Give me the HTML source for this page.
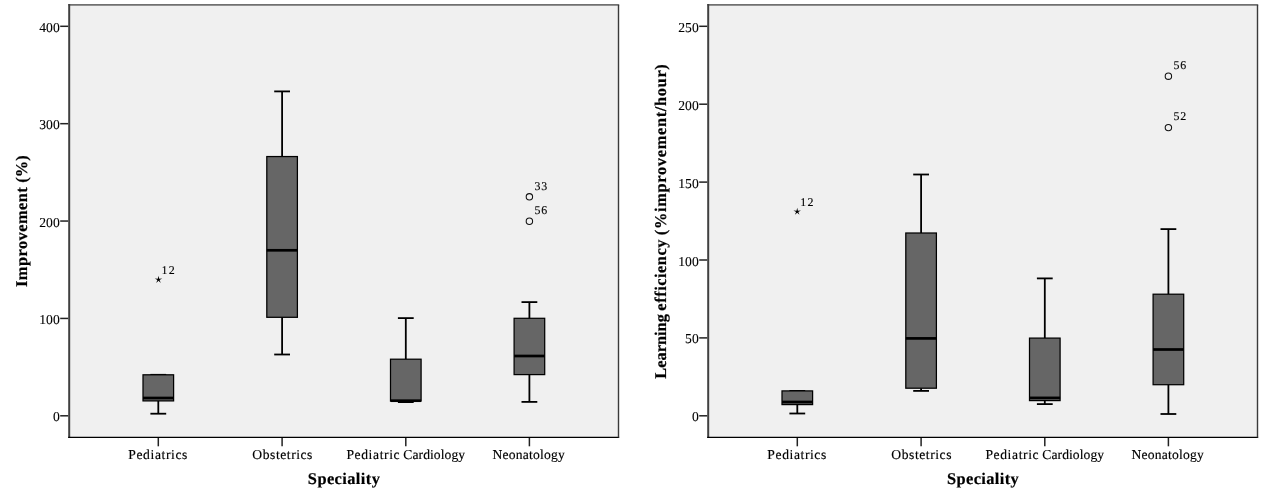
<!DOCTYPE html>
<html lang="en"><head><meta charset="utf-8"><title>Box plots</title>
<style>
html,body{margin:0;padding:0;background:#fff;}
body{width:1276px;height:497px;overflow:hidden;}
svg{display:block;}
text{font-family:"Liberation Serif",serif;fill:#000;text-rendering:geometricPrecision;}
.w{stroke:#000;stroke-width:1.8;}
.b{fill:#666;stroke:#000;stroke-width:1.25;}
.m{stroke:#000;stroke-width:2.7;}
.o{fill:none;stroke:#111;stroke-width:1.05;}
.ft{stroke:#707070;stroke-width:1.8;}
.fl{stroke:#404040;stroke-width:2;}
.fb{stroke:#000;stroke-width:1.2;}
.fr{stroke:#3a3a3a;stroke-width:1.4;}
.t{stroke:#222;stroke-width:1.5;}
.yl{font-size:13.6px;text-anchor:end;letter-spacing:0px;stroke:#000;stroke-width:0.1px;}
.xl{font-size:13.6px;text-anchor:middle;stroke:#000;stroke-width:0.15px;}
.pl{font-size:11.9px;stroke:#000;stroke-width:0.12px;}
.ti{font-size:16.4px;font-weight:bold;text-anchor:middle;stroke:#000;stroke-width:0.2px;}
</style></head>
<body>
<svg width="1276" height="497" viewBox="0 0 1276 497">
<rect width="1276" height="497" fill="#fff"/>
<g id="left">
<rect x="69.20" y="4.95" width="549.30" height="432.45" fill="#f0f0f0"/>
<line x1="150.40" y1="374.8" x2="166.20" y2="374.8" class="w"/>
<line x1="158.30" y1="400.9" x2="158.30" y2="413.7" class="w"/>
<line x1="150.40" y1="413.7" x2="166.20" y2="413.7" class="w"/>
<rect x="143.00" y="374.8" width="30.6" height="26.10" class="b"/>
<line x1="143.00" y1="398.0" x2="173.60" y2="398.0" class="m"/>
<line x1="282.10" y1="91.4" x2="282.10" y2="156.55" class="w"/>
<line x1="274.20" y1="91.4" x2="290.00" y2="91.4" class="w"/>
<line x1="282.10" y1="317.3" x2="282.10" y2="354.5" class="w"/>
<line x1="274.20" y1="354.5" x2="290.00" y2="354.5" class="w"/>
<rect x="266.80" y="156.55" width="30.6" height="160.75" class="b"/>
<line x1="266.80" y1="250.3" x2="297.40" y2="250.3" class="m"/>
<line x1="405.80" y1="318.1" x2="405.80" y2="359.2" class="w"/>
<line x1="397.90" y1="318.1" x2="413.70" y2="318.1" class="w"/>
<line x1="405.80" y1="401.0" x2="405.80" y2="402.1" class="w"/>
<line x1="397.90" y1="402.1" x2="413.70" y2="402.1" class="w"/>
<rect x="390.50" y="359.2" width="30.6" height="41.80" class="b"/>
<line x1="390.50" y1="400.7" x2="421.10" y2="400.7" class="m"/>
<line x1="529.40" y1="302.1" x2="529.40" y2="318.3" class="w"/>
<line x1="521.50" y1="302.1" x2="537.30" y2="302.1" class="w"/>
<line x1="529.40" y1="374.6" x2="529.40" y2="401.9" class="w"/>
<line x1="521.50" y1="401.9" x2="537.30" y2="401.9" class="w"/>
<rect x="514.10" y="318.3" width="30.6" height="56.30" class="b"/>
<line x1="514.10" y1="356.0" x2="544.70" y2="356.0" class="m"/>
<polygon points="158.50,275.75 159.18,278.77 162.26,278.48 159.59,280.06 160.82,282.90 158.50,280.85 156.18,282.90 157.41,280.06 154.74,278.48 157.82,278.77" fill="#000"/>
<text x="161.40" y="273.9" class="pl" style="letter-spacing:1.30px">12</text>
<circle cx="529.4" cy="196.8" r="3.2" class="o"/>
<text x="534.60" y="190.0" class="pl" style="letter-spacing:0.80px">33</text>
<circle cx="529.4" cy="221.2" r="3.2" class="o"/>
<text x="534.60" y="214.2" class="pl" style="letter-spacing:0.80px">56</text>
<line x1="68.40" y1="4.95" x2="619.20" y2="4.95" class="ft"/>
<line x1="69.20" y1="3.95" x2="69.20" y2="438.04999999999995" class="fl"/>
<line x1="68.20" y1="437.4" x2="619.20" y2="437.4" class="fb"/>
<line x1="618.5" y1="4.95" x2="618.5" y2="437.4" class="fr"/>
<line x1="60.20" y1="415.80" x2="68.20" y2="415.80" class="t"/>
<text x="59.70" y="421.35" class="yl">0</text>
<line x1="60.20" y1="318.43" x2="68.20" y2="318.43" class="t"/>
<text x="59.70" y="323.98" class="yl">100</text>
<line x1="60.20" y1="221.05" x2="68.20" y2="221.05" class="t"/>
<text x="59.70" y="226.60" class="yl">200</text>
<line x1="60.20" y1="123.68" x2="68.20" y2="123.68" class="t"/>
<text x="59.70" y="129.23" class="yl">300</text>
<line x1="60.20" y1="26.30" x2="68.20" y2="26.30" class="t"/>
<text x="59.70" y="31.85" class="yl">400</text>
<line x1="158.30" y1="438.00" x2="158.30" y2="446.30" class="t"/>
<text y="458.9" class="xl"><tspan x="158.13" style="letter-spacing:0.60px">Pediatrics</tspan></text>
<line x1="282.10" y1="438.00" x2="282.10" y2="446.30" class="t"/>
<text y="458.9" class="xl"><tspan x="282.67" style="letter-spacing:0.55px">Obstetrics</tspan></text>
<line x1="405.80" y1="438.00" x2="405.80" y2="446.30" class="t"/>
<text y="458.9" class="xl"><tspan x="375.00" style="letter-spacing:0.61px">Pediatric</tspan> <tspan x="434.25" style="letter-spacing:0.06px">Cardiology</tspan></text>
<line x1="529.40" y1="438.00" x2="529.40" y2="446.30" class="t"/>
<text y="458.9" class="xl"><tspan x="528.82" style="letter-spacing:0.22px">Neonatology</tspan></text>
<text x="344.07" y="483.9" class="ti" style="letter-spacing:0.41px">Speciality</text>
<text transform="translate(26.8,0) rotate(-90)" class="ti"><tspan x="-234.87" style="letter-spacing:0.45px">Improvement</tspan> <tspan x="-169.00" style="letter-spacing:-0.01px">(%)</tspan></text>
</g>
<g id="right">
<rect x="708.20" y="4.95" width="549.30" height="432.45" fill="#f0f0f0"/>
<line x1="789.40" y1="390.9" x2="805.20" y2="390.9" class="w"/>
<line x1="797.30" y1="404.6" x2="797.30" y2="413.5" class="w"/>
<line x1="789.40" y1="413.5" x2="805.20" y2="413.5" class="w"/>
<rect x="782.00" y="390.9" width="30.6" height="13.70" class="b"/>
<line x1="782.00" y1="402.0" x2="812.60" y2="402.0" class="m"/>
<line x1="921.10" y1="174.5" x2="921.10" y2="233.0" class="w"/>
<line x1="913.20" y1="174.5" x2="929.00" y2="174.5" class="w"/>
<line x1="921.10" y1="388.2" x2="921.10" y2="390.9" class="w"/>
<line x1="913.20" y1="390.9" x2="929.00" y2="390.9" class="w"/>
<rect x="905.80" y="233.0" width="30.6" height="155.20" class="b"/>
<line x1="905.80" y1="338.4" x2="936.40" y2="338.4" class="m"/>
<line x1="1044.80" y1="278.4" x2="1044.80" y2="338.1" class="w"/>
<line x1="1036.90" y1="278.4" x2="1052.70" y2="278.4" class="w"/>
<line x1="1044.80" y1="400.6" x2="1044.80" y2="404.1" class="w"/>
<line x1="1036.90" y1="404.1" x2="1052.70" y2="404.1" class="w"/>
<rect x="1029.50" y="338.1" width="30.6" height="62.50" class="b"/>
<line x1="1029.50" y1="397.9" x2="1060.10" y2="397.9" class="m"/>
<line x1="1168.40" y1="229.1" x2="1168.40" y2="294.2" class="w"/>
<line x1="1160.50" y1="229.1" x2="1176.30" y2="229.1" class="w"/>
<line x1="1168.40" y1="384.7" x2="1168.40" y2="414.0" class="w"/>
<line x1="1160.50" y1="414.0" x2="1176.30" y2="414.0" class="w"/>
<rect x="1153.10" y="294.2" width="30.6" height="90.50" class="b"/>
<line x1="1153.10" y1="349.5" x2="1183.70" y2="349.5" class="m"/>
<polygon points="797.20,207.65 797.88,210.67 800.96,210.38 798.29,211.96 799.52,214.80 797.20,212.75 794.88,214.80 796.11,211.96 793.44,210.38 796.52,210.67" fill="#000"/>
<text x="800.20" y="205.9" class="pl" style="letter-spacing:1.30px">12</text>
<circle cx="1168.4" cy="76.15" r="3.2" class="o"/>
<text x="1173.50" y="68.8" class="pl" style="letter-spacing:0.80px">56</text>
<circle cx="1168.4" cy="127.6" r="3.2" class="o"/>
<text x="1173.50" y="119.9" class="pl" style="letter-spacing:0.80px">52</text>
<line x1="707.40" y1="4.95" x2="1258.20" y2="4.95" class="ft"/>
<line x1="708.20" y1="3.95" x2="708.20" y2="438.04999999999995" class="fl"/>
<line x1="707.20" y1="437.4" x2="1258.20" y2="437.4" class="fb"/>
<line x1="1257.5" y1="4.95" x2="1257.5" y2="437.4" class="fr"/>
<line x1="699.20" y1="415.80" x2="707.20" y2="415.80" class="t"/>
<text x="698.70" y="421.35" class="yl">0</text>
<line x1="699.20" y1="337.90" x2="707.20" y2="337.90" class="t"/>
<text x="698.70" y="343.45" class="yl">50</text>
<line x1="699.20" y1="260.00" x2="707.20" y2="260.00" class="t"/>
<text x="698.70" y="265.55" class="yl">100</text>
<line x1="699.20" y1="182.10" x2="707.20" y2="182.10" class="t"/>
<text x="698.70" y="187.65" class="yl">150</text>
<line x1="699.20" y1="104.20" x2="707.20" y2="104.20" class="t"/>
<text x="698.70" y="109.75" class="yl">200</text>
<line x1="699.20" y1="26.30" x2="707.20" y2="26.30" class="t"/>
<text x="698.70" y="31.85" class="yl">250</text>
<line x1="797.30" y1="438.00" x2="797.30" y2="446.30" class="t"/>
<text y="458.9" class="xl"><tspan x="797.12" style="letter-spacing:0.59px">Pediatrics</tspan></text>
<line x1="921.10" y1="438.00" x2="921.10" y2="446.30" class="t"/>
<text y="458.9" class="xl"><tspan x="921.68" style="letter-spacing:0.55px">Obstetrics</tspan></text>
<line x1="1044.80" y1="438.00" x2="1044.80" y2="446.30" class="t"/>
<text y="458.9" class="xl"><tspan x="1014.00" style="letter-spacing:0.61px">Pediatric</tspan> <tspan x="1073.24" style="letter-spacing:0.07px">Cardiology</tspan></text>
<line x1="1168.40" y1="438.00" x2="1168.40" y2="446.30" class="t"/>
<text y="458.9" class="xl"><tspan x="1167.83" style="letter-spacing:0.22px">Neonatology</tspan></text>
<text x="983.08" y="483.9" class="ti" style="letter-spacing:0.40px">Speciality</text>
<text transform="translate(665.8,0) rotate(-90)" class="ti"><tspan x="-344.37" style="letter-spacing:-0.02px">Learning</tspan> <tspan x="-272.75" style="letter-spacing:0.52px">efficiency</tspan> <tspan x="-149.35" style="letter-spacing:0.66px">(%improvement/hour)</tspan></text>
</g>
</svg>
</body></html>
